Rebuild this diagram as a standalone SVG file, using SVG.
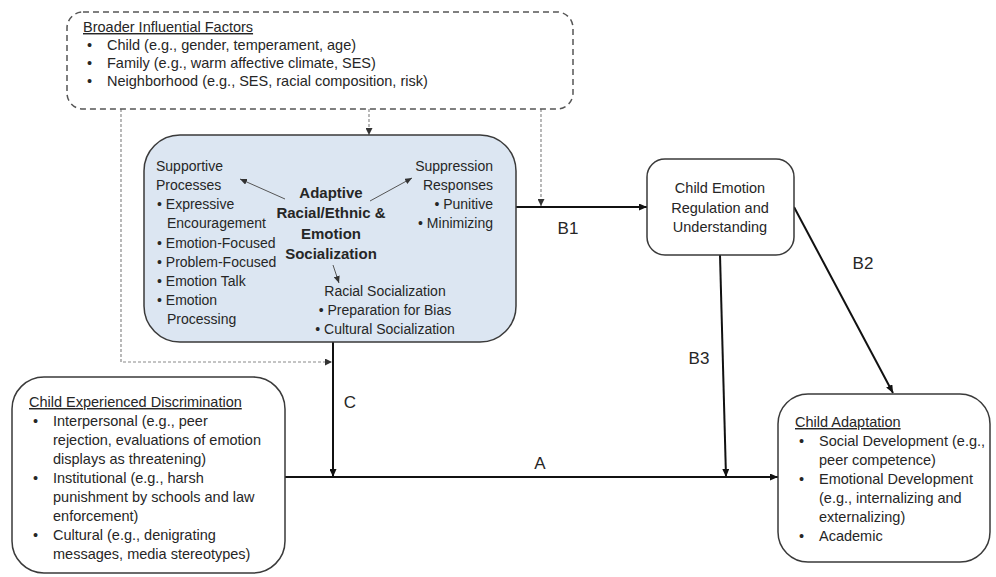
<svg xmlns="http://www.w3.org/2000/svg" width="996" height="577" viewBox="0 0 996 577">
<defs>
<style>
text{font-family:"Liberation Sans",Arial,sans-serif;fill:#262626;font-size:14.5px}
.sm{font-size:14px}
.b{font-weight:bold;font-size:15px}
.u{text-decoration:underline}
.lbl{font-size:17px}
.box{fill:#fff;stroke:#3a3a3a;stroke-width:1.5}
.main{fill:none;stroke:#111;stroke-width:2}
.dash{fill:none;stroke:#8a8a8a;stroke-width:1.2;stroke-dasharray:3 2}
.thin{fill:none;stroke:#555;stroke-width:1}
</style>
<marker id="ah" markerUnits="userSpaceOnUse" markerWidth="8" markerHeight="7" refX="8" refY="3.5" orient="auto"><path d="M0,0 L8,3.5 L0,7 z" fill="#111"/></marker>
<marker id="ahd" markerUnits="userSpaceOnUse" markerWidth="7" markerHeight="7" refX="7" refY="3.5" orient="auto"><path d="M0,0 L7,3.5 L0,7 z" fill="#333"/></marker>
<marker id="aht" markerUnits="userSpaceOnUse" markerWidth="7" markerHeight="6" refX="7" refY="3" orient="auto"><path d="M0,0 L7,3 L0,6 z" fill="#333"/></marker>
</defs>
<rect width="996" height="577" fill="#fff"/>

<g id="connectors">
<path class="dash" d="M369,109 V135" marker-end="url(#ahd)"/>
<path class="dash" d="M541,109 V206" marker-end="url(#ahd)"/>
<path class="dash" d="M121,109 V362 H332" marker-end="url(#ahd)"/>
<path class="main" d="M515,207 H647" marker-end="url(#ah)"/>
<path class="main" d="M794,207 L893,393" marker-end="url(#ah)"/>
<path class="main" d="M720,255 L726,477" marker-end="url(#ah)"/>
<path class="main" d="M333,342 V477" marker-end="url(#ah)"/>
<path class="main" d="M285,477 H778" marker-end="url(#ah)"/>
<text class="lbl" x="568" y="234" text-anchor="middle">B1</text>
<text class="lbl" x="863" y="269" text-anchor="middle">B2</text>
<text class="lbl" x="699" y="364" text-anchor="middle">B3</text>
<text class="lbl" x="350" y="408" text-anchor="middle">C</text>
<text class="lbl" x="540" y="469" text-anchor="middle">A</text>
</g>

<g id="broader">
<rect x="67" y="12" width="506" height="97" rx="16" fill="#fff" stroke="#555" stroke-width="1.5" stroke-dasharray="6 4"/>
<text class="u" x="83" y="32">Broader Influential Factors</text>
<text x="87" y="50">•</text><text x="107" y="50">Child (e.g., gender, temperament, age)</text>
<text x="87" y="68">•</text><text x="107" y="68">Family (e.g., warm affective climate, SES)</text>
<text x="87" y="86">•</text><text x="107" y="86">Neighborhood (e.g., SES, racial composition, risk)</text>
</g>

<g id="socialization">
<rect x="144" y="135" width="372" height="207" rx="36" fill="#dce6f2" stroke="#3a3a3a" stroke-width="1.5"/>
<text class="sm" x="156" y="171">Supportive</text>
<text class="sm" x="156" y="190">Processes</text>
<text class="sm" x="157" y="209">• Expressive</text>
<text class="sm" x="167" y="228">Encouragement</text>
<text class="sm" x="157" y="248">• Emotion-Focused</text>
<text class="sm" x="157" y="267">• Problem-Focused</text>
<text class="sm" x="157" y="286">• Emotion Talk</text>
<text class="sm" x="157" y="305">• Emotion</text>
<text class="sm" x="167" y="324">Processing</text>
<text class="b" x="331" y="198" text-anchor="middle">Adaptive</text>
<text class="b" x="331" y="218" text-anchor="middle">Racial/Ethnic &amp;</text>
<text class="b" x="331" y="239" text-anchor="middle">Emotion</text>
<text class="b" x="331" y="259" text-anchor="middle">Socialization</text>
<text class="sm" x="493" y="171" text-anchor="end">Suppression</text>
<text class="sm" x="493" y="190" text-anchor="end">Responses</text>
<text class="sm" x="493" y="209" text-anchor="end">• Punitive</text>
<text class="sm" x="493" y="228" text-anchor="end">• Minimizing</text>
<text class="sm" x="385" y="296" text-anchor="middle">Racial Socialization</text>
<text class="sm" x="385" y="315" text-anchor="middle">• Preparation for Bias</text>
<text class="sm" x="385" y="334" text-anchor="middle">• Cultural Socialization</text>
<path class="thin" d="M285,199 L240,179" marker-end="url(#aht)"/>
<path class="thin" d="M370,201 L412,178" marker-end="url(#aht)"/>
<path class="thin" d="M333,265 L339,283" marker-end="url(#aht)"/>
</g>

<g id="emotion">
<rect class="box" x="647" y="159" width="147" height="96" rx="18"/>
<text x="720" y="193" text-anchor="middle">Child Emotion</text>
<text x="720" y="213" text-anchor="middle">Regulation and</text>
<text x="720" y="232" text-anchor="middle">Understanding</text>
</g>

<g id="discrimination">
<rect class="box" x="12" y="377" width="273" height="196" rx="32"/>
<text class="u" x="29" y="407">Child Experienced Discrimination</text>
<text x="33" y="426">•</text><text x="53" y="426">Interpersonal (e.g., peer</text>
<text x="53" y="445">rejection, evaluations of emotion</text>
<text x="53" y="464">displays as threatening)</text>
<text x="33" y="483">•</text><text x="53" y="483">Institutional (e.g., harsh</text>
<text x="53" y="502">punishment by schools and law</text>
<text x="53" y="521">enforcement)</text>
<text x="33" y="540">•</text><text x="53" y="540">Cultural (e.g., denigrating</text>
<text x="53" y="559">messages, media stereotypes)</text>
</g>

<g id="adaptation">
<rect class="box" x="778" y="394" width="212" height="168" rx="30"/>
<text class="u" x="795" y="427">Child Adaptation</text>
<text x="799" y="446">•</text><text x="819" y="446">Social Development (e.g.,</text>
<text x="819" y="465">peer competence)</text>
<text x="799" y="484">•</text><text x="819" y="484">Emotional Development</text>
<text x="819" y="503">(e.g., internalizing and</text>
<text x="819" y="522">externalizing)</text>
<text x="799" y="541">•</text><text x="819" y="541">Academic</text>
</g>
</svg>
